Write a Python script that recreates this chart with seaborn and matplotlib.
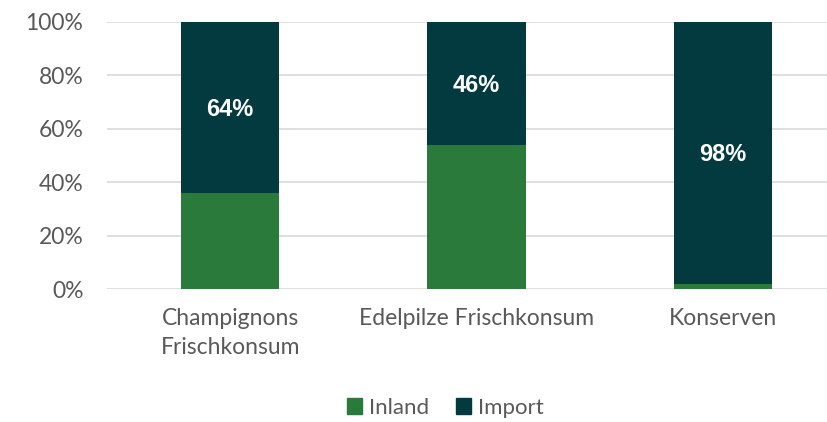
import numpy as np
import pandas as pd
import seaborn as sns
import matplotlib.pyplot as plt

# chart data
categories = ["Champignons\nFrischkonsum", "Edelpilze Frischkonsum", "Konserven"]
inland = [36, 54, 2]
import_share = [64, 46, 98]
yticks = [0, 20, 40, 60, 80, 100]

green = "#2a7a3b"
dark = "#023a40"
grey = "#595959"

sns.set_theme(style="white")
plt.rcParams['font.family'] = ['Lato', 'DejaVu Sans']

df = pd.DataFrame({"cat": categories, "Inland": inland, "Import": import_share})
df["total"] = df["Inland"] + df["Import"]

fig = plt.figure(figsize=(8.28, 4.22), dpi=100)
ax = fig.add_axes([107 / 828, 1 - 289 / 422, (828 - 107) / 828, 267 / 422])

# stacked bars: full total in dark, inland overlaid in green
sns.barplot(data=df, x="cat", y="total", color=dark, width=0.4, saturation=1,
            ax=ax, zorder=3, linewidth=0)
sns.barplot(data=df, x="cat", y="Inland", color=green, width=0.4, saturation=1,
            ax=ax, zorder=4, linewidth=0)

# labels for import share, centred in the dark segment
for i, (a, b) in enumerate(zip(inland, import_share)):
    ax.text(i, a + b / 2 - 0.8, f"{b}%", ha="center", va="center", color="white",
            fontsize=17, fontweight="bold", family="Liberation Sans", zorder=5)

ax.set_ylim(0, 100)
ax.set_xlim(-0.5, 2.5 - 18 / 246.5)
ax.set_yticks(yticks)
ax.set_yticklabels([f"{t}%" for t in yticks], color=grey, fontsize=16.5)
ax.tick_params(axis="x", colors=grey, labelsize=16.5, pad=14, length=0)
for lbl in ax.get_xticklabels():
    lbl.set_linespacing(1.45)
ax.tick_params(axis="y", pad=17, length=0)
ax.set_xlabel("")
ax.set_ylabel("")
ax.grid(axis="y", color="#d9d9d9", linewidth=1.2, zorder=0)
ax.set_axisbelow(True)
for s in ax.spines.values():
    s.set_visible(False)

handles = [plt.Rectangle((0, 0), 1, 1, color=green), plt.Rectangle((0, 0), 1, 1, color=dark)]
fig.legend(handles, ["Inland", "Import"], loc="center", bbox_to_anchor=(445 / 828, 1 - 408 / 422),
           ncol=2, frameon=False, fontsize=16, labelcolor=grey, handlelength=0.7,
           handleheight=0.7, handletextpad=0.3, columnspacing=1.2)

fig.savefig("out.png", dpi=100)
